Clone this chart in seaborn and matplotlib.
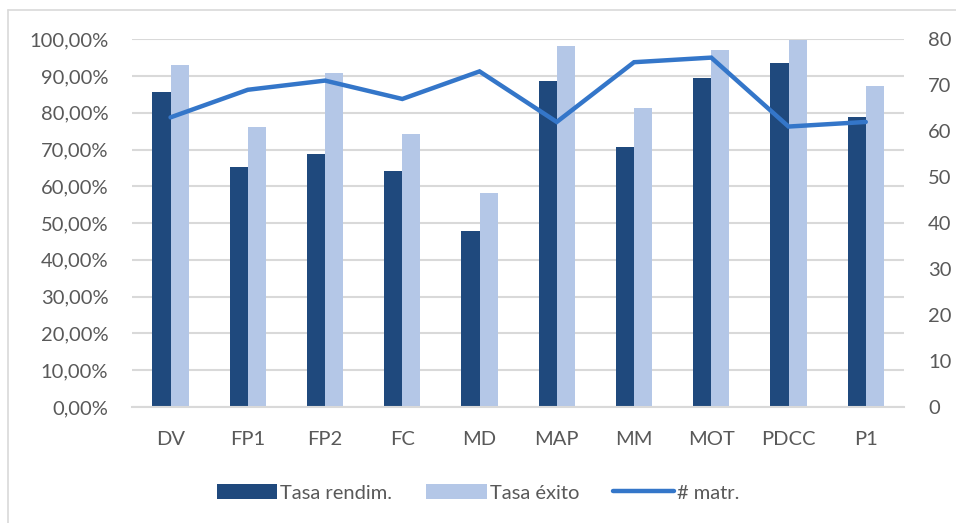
import numpy as np
import pandas as pd
import matplotlib
matplotlib.use("Agg")
import matplotlib.pyplot as plt
from matplotlib.patches import Patch
from matplotlib.lines import Line2D
from matplotlib.ticker import FuncFormatter, MultipleLocator
import seaborn as sns

# Data
asignaturas = ["DV", "FP1", "FP2", "FC", "MD", "MAP", "MM", "MOT", "PDCC", "P1"]
tasa_rendim = [85.7, 65.2, 68.9, 64.1, 47.9, 88.6, 70.6, 89.4, 93.4, 78.9]
tasa_exito = [93.1, 76.2, 90.8, 74.1, 58.2, 98.2, 81.4, 97.0, 99.9, 87.3]
matriculados = [63, 69, 71, 67, 73, 62, 75, 76, 61, 62]

series_names = ["Tasa rendim.", "Tasa éxito", "# matr."]
c_dark = "#1F497D"
c_light = "#B4C7E7"
c_line = "#3476C9"
txt = "#595959"
grid = "#D9D9D9"
fs = 14.5

sns.set_theme(style="white")
plt.rcParams["font.family"] = ["Lato", "DejaVu Sans"]

df = pd.DataFrame({
    "asig": asignaturas * 2,
    "valor": tasa_rendim + tasa_exito,
    "serie": [series_names[0]] * len(asignaturas) + [series_names[1]] * len(asignaturas),
})

fig = plt.figure(figsize=(9.56, 5.23), dpi=100)
ax = fig.add_axes([0.138, 0.222, 0.808, 0.703])

sns.barplot(data=df, x="asig", y="valor", hue="serie", order=asignaturas,
            palette=[c_dark, c_light], width=0.47, gap=0, dodge=True,
            saturation=1, linewidth=0, legend=False, ax=ax)

ax.set_ylim(0, 100)
ax.set_xlim(-0.5, len(asignaturas) - 0.5)
ax.yaxis.set_major_locator(MultipleLocator(10))
ax.yaxis.set_major_formatter(FuncFormatter(lambda v, p: f"{v:.2f}%".replace(".", ",")))
ax.grid(axis="y", color=grid, linewidth=1.5, zorder=0)
ax.set_axisbelow(True)
for s in ["top", "left", "right"]:
    ax.spines[s].set_visible(False)
ax.spines["bottom"].set_color(grid)
ax.spines["bottom"].set_linewidth(1.5)
ax.set_xlabel("")
ax.set_ylabel("")
ax.tick_params(axis="both", length=0, labelsize=fs, colors=txt)
ax.tick_params(axis="y", pad=17)
ax.tick_params(axis="x", pad=17)

ax2 = ax.twinx()
sns.lineplot(x=np.arange(len(asignaturas)), y=matriculados, color=c_line,
             linewidth=3.2, ax=ax2, solid_capstyle="round", solid_joinstyle="miter")
ax2.set_ylim(0, 80)
ax2.yaxis.set_major_locator(MultipleLocator(10))
for s in ["top", "left", "right", "bottom"]:
    ax2.spines[s].set_visible(False)
ax2.tick_params(axis="y", length=0, labelsize=fs, colors=txt, pad=17)
ax2.set_ylabel("")

handles = [
    Patch(facecolor=c_dark, edgecolor="none"),
    Patch(facecolor=c_light, edgecolor="none"),
    Line2D([0], [0], color=c_line, linewidth=3.2, solid_capstyle="round"),
]
fig.legend(handles, series_names, loc="center", bbox_to_anchor=(0.5, 0.058),
           ncol=3, frameon=False, fontsize=fs, labelcolor=txt,
           handlelength=3.0, handleheight=0.8, columnspacing=1.7, handletextpad=0.15)

# Chart-area frame (top and left edges)
fx, fy = 7.5 / 956, 1 - 9.5 / 523
fig.add_artist(Line2D([fx, 1.0], [fy, fy], transform=fig.transFigure, color=grid, linewidth=1.2))
fig.add_artist(Line2D([fx, fx], [0.0, fy], transform=fig.transFigure, color=grid, linewidth=1.2))

fig.savefig("out.png", dpi=100)
